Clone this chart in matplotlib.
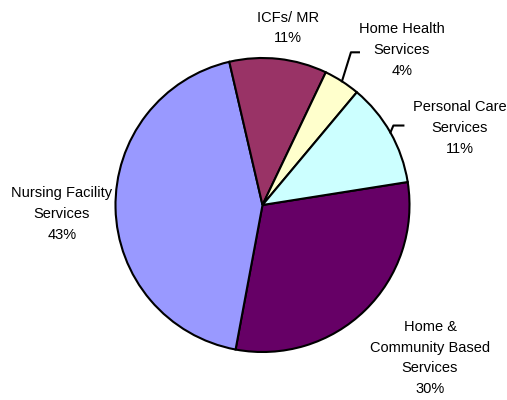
import matplotlib.pyplot as plt
import numpy as np

plt.rcParams['font.family'] = ['Liberation Sans', 'DejaVu Sans']

categories = ['Home &\nCommunity Based\nServices', 'Nursing Facility\nServices', 'ICFs/ MR',
              'Home Health\nServices', 'Personal Care\nServices']
shares = [30.4, 43.4, 10.7, 4.0, 11.4]
colors = ['#660066', '#9999FF', '#993366', '#FFFFCC', '#CCFFFF']

# label centres in pixel coords (image y measured from top)
label_pos = [(430, 358), (62, 214), (288, 28), (402, 50), (460, 128)]

W, H = 507, 400
fig = plt.figure(figsize=(W / 100, H / 100), dpi=100)
ax = fig.add_axes([0, 0, 1, 1])

cx, cy, r = 262.5, H - 205, 147
start = 9
wedges, _ = ax.pie(shares, colors=colors, startangle=start, counterclock=False,
                   center=(cx, cy), radius=r, frame=True,
                   wedgeprops=dict(edgecolor='black', linewidth=1.5))
ax.set_xlim(0, W)
ax.set_ylim(0, H)
ax.set_aspect('equal')
ax.axis('off')

for name, val, (lx, ly) in zip(categories, shares, label_pos):
    ax.text(lx, H - ly, name + '\n' + '%d%%' % round(val), ha='center', va='center',
            fontsize=10.5, linespacing=1.6)

# leader lines for the two small slices on the right
mids = start - (np.cumsum(shares) - np.array(shares) / 2) * 360 / sum(shares)
for i, (dx, dy, ex) in [(3, (9, 29, 8)), (4, (3, 7, 10))]:
    a = np.deg2rad(mids[i])
    x0, y0 = cx + r * np.cos(a), cy + r * np.sin(a)
    x1, y1 = x0 + dx, y0 + dy
    ax.plot([x0, x1, x1 + ex], [y0, y1, y1], color='black', lw=1.5)

fig.savefig('out.png', dpi=100, facecolor='white')
